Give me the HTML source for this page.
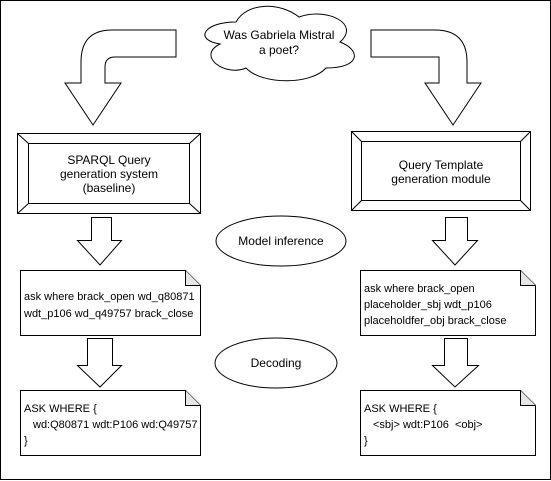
<!DOCTYPE html>
<html><head><style>
html,body{margin:0;padding:0;background:#fff;}
svg{display:block;}
text{font-family:"Liberation Sans",Arial,sans-serif;fill:#000;}
</style></head><body>
<svg width="551" height="481" viewBox="0 0 551 481" xmlns="http://www.w3.org/2000/svg">
<rect x="0.5" y="0.5" width="550" height="479" fill="#fff" stroke="#000"/>
<g fill="#fff" stroke="#000" stroke-width="1">
<!-- cloud -->
<path d="M236,22 C203,22 194,40 220,44 C196,56 225,77 246,68 C262,85 311,85 326,68 C361,68 361,50 340,42 C361,24 327,7 299,17 C280,2 247,2 236,22 Z"/>
<!-- left bent arrow -->
<path d="M176,30 L112,30 Q81,30 81,62 L81,83 L65,83 L93,125 L121,83 L105,83 L105,67 Q105,57 115,57 L176,57 Z"/>
<!-- right bent arrow -->
<path d="M371,30 L435,30 Q467,30 467,62 L467,83 L481,83 L453,125 L425,83 L439,83 L439,57 L371,57 Z"/>
<!-- left box -->
<rect x="17.5" y="133.5" width="183" height="80"/>
<rect x="28.5" y="143.5" width="161" height="60"/>
<path d="M17.5,133.5 L28.5,143.5 M200.5,133.5 L189.5,143.5 M17.5,213.5 L28.5,203.5 M200.5,213.5 L189.5,203.5"/>
<!-- right box -->
<rect x="351.5" y="131.5" width="179" height="79"/>
<rect x="361.5" y="141.5" width="159" height="59"/>
<path d="M351.5,131.5 L361.5,141.5 M530.5,131.5 L520.5,141.5 M351.5,210.5 L361.5,200.5 M530.5,210.5 L520.5,200.5"/>
<!-- ellipses -->
<ellipse cx="281" cy="241" rx="65" ry="25"/>
<ellipse cx="276" cy="363" rx="61" ry="25"/>
<!-- down arrows -->
<path d="M91.5,217.5 L111.5,217.5 L111.5,240.5 L121.5,240.5 L100,265 L77.5,240.5 L91.5,240.5 Z"/>
<path d="M445.5,217.5 L467.5,217.5 L467.5,240.5 L477.5,240.5 L455,265 L432.5,240.5 L445.5,240.5 Z"/>
<path d="M87.5,338.5 L112.5,338.5 L112.5,365.5 L121.5,365.5 L100,387 L77.5,365.5 L87.5,365.5 Z"/>
<path d="M444.5,338.5 L467.5,338.5 L467.5,365.5 L478.5,365.5 L455,387 L432.5,365.5 L444.5,365.5 Z"/>
<!-- notes -->
<path d="M20.5,270.5 L185.5,270.5 L200.5,285.5 L200.5,335.5 L20.5,335.5 Z"/>
<path d="M185.5,270.5 L185.5,285.5 L200.5,285.5" fill="#e6e6e6"/>
<path d="M360.5,270.5 L520.5,270.5 L535.5,285.5 L535.5,335.5 L360.5,335.5 Z"/>
<path d="M520.5,270.5 L520.5,285.5 L535.5,285.5" fill="#e6e6e6"/>
<path d="M20.5,390.5 L185.5,390.5 L200.5,405.5 L200.5,455.5 L20.5,455.5 Z"/>
<path d="M185.5,390.5 L185.5,405.5 L200.5,405.5" fill="#e6e6e6"/>
<path d="M360.5,390.5 L520.5,390.5 L535.5,405.5 L535.5,455.5 L360.5,455.5 Z"/>
<path d="M520.5,390.5 L520.5,405.5 L535.5,405.5" fill="#e6e6e6"/>
</g>
<g font-size="12" text-anchor="middle">
<text x="279" y="39">Was Gabriela Mistral</text>
<text x="279" y="54">a poet?</text>
<text x="109" y="164">SPARQL Query</text>
<text x="109" y="178">generation system</text>
<text x="109" y="192">(baseline)</text>
<text x="441" y="169">Query Template</text>
<text x="441" y="183">generation module</text>
<text x="281" y="245">Model inference</text>
<text x="276" y="367">Decoding</text>
</g>
<g font-size="11">
<text x="24" y="300">ask where brack_open wd_q80871</text>
<text x="24" y="317">wdt_p106 wd_q49757 brack_close</text>
<text x="364" y="292">ask where brack_open</text>
<text x="364" y="308">placeholder_sbj wdt_p106</text>
<text x="364" y="324">placeholdfer_obj brack_close</text>
<text x="24" y="412">ASK WHERE {</text>
<text x="33" y="428">wd:Q80871 wdt:P106 wd:Q49757</text>
<text x="24" y="444">}</text>
<text x="364" y="412">ASK WHERE {</text>
<text x="373" y="428">&lt;sbj&gt; wdt:P106 &#160;&lt;obj&gt;</text>
<text x="364" y="444">}</text>
</g>
</svg>
</body></html>
